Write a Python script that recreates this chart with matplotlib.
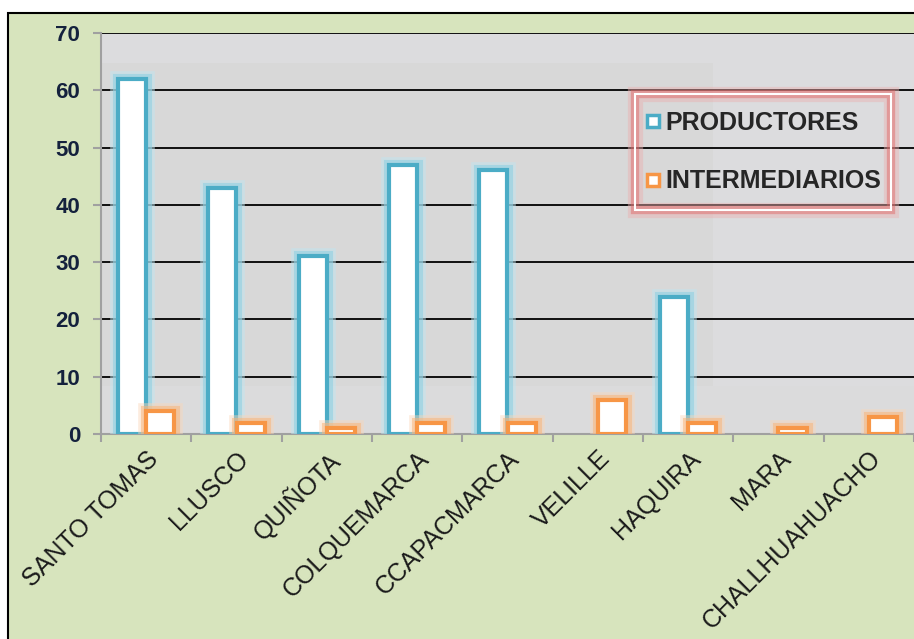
import matplotlib
matplotlib.use("Agg")
import matplotlib.pyplot as plt
import matplotlib.patheffects as pe
from matplotlib.patches import Rectangle
from matplotlib.lines import Line2D
import numpy as np

categories = ["SANTO TOMAS", "LLUSCO", "QUIÑOTA", "COLQUEMARCA", "CCAPACMARCA",
              "VELILLE", "HAQUIRA", "MARA", "CHALLHUAHUACHO"]
productores = [62, 43, 31, 47, 46, 0, 24, 0, 0]
intermediarios = [4, 2, 1, 2, 2, 6, 2, 1, 3]
series_names = ["PRODUCTORES", "INTERMEDIARIOS"]

BLUE = "#4BACC6"
ORANGE = "#F79646"
plt.rcParams['font.family'] = ['Liberation Sans', 'DejaVu Sans']

fig = plt.figure(figsize=(9.14, 6.39), dpi=100)
fig.patch.set_facecolor("white")
W, H = 914, 639
bg = Rectangle((8 / W, -0.05), 1.1, 1 - 13 / H + 0.05, transform=fig.transFigure,
               facecolor="#D7E4BD", edgecolor="black", linewidth=1.5, zorder=-5)
fig.patches.append(bg)

AX_L, AX_T, AX_W, AX_H = 101, 33, 813, 401
ax = fig.add_axes([AX_L / W, 1 - (AX_T + AX_H) / H, AX_W / W, AX_H / H])
ax.set_zorder(2)
ax.set_facecolor("#D8D8D8")
# subtle lighter shading regions of the plot area
ax.add_patch(Rectangle((0, 1 - 30 / AX_H), 1, 30 / AX_H, transform=ax.transAxes,
                       facecolor="#DCDCDE", edgecolor="none", zorder=0))
ax.add_patch(Rectangle((612 / AX_W, 0), 201 / AX_W, 1, transform=ax.transAxes,
                       facecolor="#DCDCDE", edgecolor="none", zorder=0))
ax.add_patch(Rectangle((0, 0), 1, 48 / AX_H, transform=ax.transAxes,
                       facecolor="#DBDBDC", edgecolor="none", zorder=0))

x = np.arange(len(categories))
w = 0.31
prod = np.array(productores, dtype=float)
inter = np.array(intermediarios, dtype=float)
prod_m = np.where(prod > 0, prod, np.nan)
inter_m = np.where(inter > 0, inter, np.nan)

b1 = ax.bar(x - w / 2, prod_m, w, facecolor="white", edgecolor=BLUE, linewidth=3, zorder=3)
b2 = ax.bar(x + w / 2, inter_m, w, facecolor="white", edgecolor=ORANGE, linewidth=3, zorder=3)
for r in b1:
    r.set_path_effects([pe.Stroke(linewidth=12, foreground="#BFE5F0", alpha=0.5),
                        pe.Stroke(linewidth=8, foreground="#8FD0E2", alpha=0.6), pe.Normal()])
for r in b2:
    r.set_path_effects([pe.Stroke(linewidth=12, foreground="#FAD6B8", alpha=0.45),
                        pe.Stroke(linewidth=8, foreground="#F8B47A", alpha=0.55), pe.Normal()])

ax.set_xlim(-0.5, len(categories) - 0.5)
ax.set_ylim(0, 70)
ax.set_yticks(range(0, 71, 10))
ax.yaxis.grid(True, color="black", linewidth=1.3, zorder=1)
ax.set_axisbelow(True)

ax.set_xticks(np.arange(-0.5, len(categories) - 0.4, 1))
ax.set_xticklabels([])
ax.set_xticks(x, minor=True)
ax.set_xticklabels(categories, minor=True, rotation=45, ha="right", va="top",
                   rotation_mode="anchor", fontsize=18, color="#1a1a1a")
ax.tick_params(axis="x", which="minor", length=0, pad=9)
ax.tick_params(axis="x", which="major", length=6, width=1.5, color="#A0A0A0")
ax.tick_params(axis="y", length=6, width=1.5, color="#A0A0A0", pad=9)
for lab in ax.get_yticklabels():
    lab.set_fontsize(16)
    lab.set_fontweight("bold")
    lab.set_color("#14213D")

for s in ["top", "right"]:
    ax.spines[s].set_visible(False)
for s in ["left", "bottom"]:
    ax.spines[s].set_color("#A0A0A0")
    ax.spines[s].set_linewidth(1.5)

# legend frame (pixel box 635..891 x 94..210)
fx0 = (635 - AX_L) / AX_W
fx1 = (891 - AX_L) / AX_W
fy1 = (AX_T + AX_H - 94) / AX_H
fy0 = (AX_T + AX_H - 210) / AX_H
frame = Rectangle((fx0, fy0), fx1 - fx0, fy1 - fy0, transform=ax.transAxes,
                  facecolor="none", edgecolor="white", linewidth=1.5, zorder=6)
frame.set_path_effects([pe.Stroke(linewidth=11, foreground="#EBB0B0", alpha=0.45),
                        pe.Stroke(linewidth=6, foreground="#E06060", alpha=0.45), pe.Normal()])
ax.add_patch(frame)

handles = [Line2D([], [], linestyle="none", marker="s", markersize=8.5,
                  markerfacecolor="white", markeredgecolor=BLUE, markeredgewidth=2.5),
           Line2D([], [], linestyle="none", marker="s", markersize=8.5,
                  markerfacecolor="white", markeredgecolor=ORANGE, markeredgewidth=2.5)]
leg = ax.legend(handles, series_names, loc="center",
                bbox_to_anchor=((fx0 + fx1) / 2, (fy0 + fy1) / 2),
                borderaxespad=0, frameon=False,
                prop={"weight": "bold", "size": 18}, labelspacing=1.4,
                handlelength=0.6, handletextpad=0.2, borderpad=0)
for t in leg.get_texts():
    t.set_color("#262626")
leg.set_zorder(7)

fig.savefig("out.png", dpi=100, facecolor=fig.get_facecolor())
